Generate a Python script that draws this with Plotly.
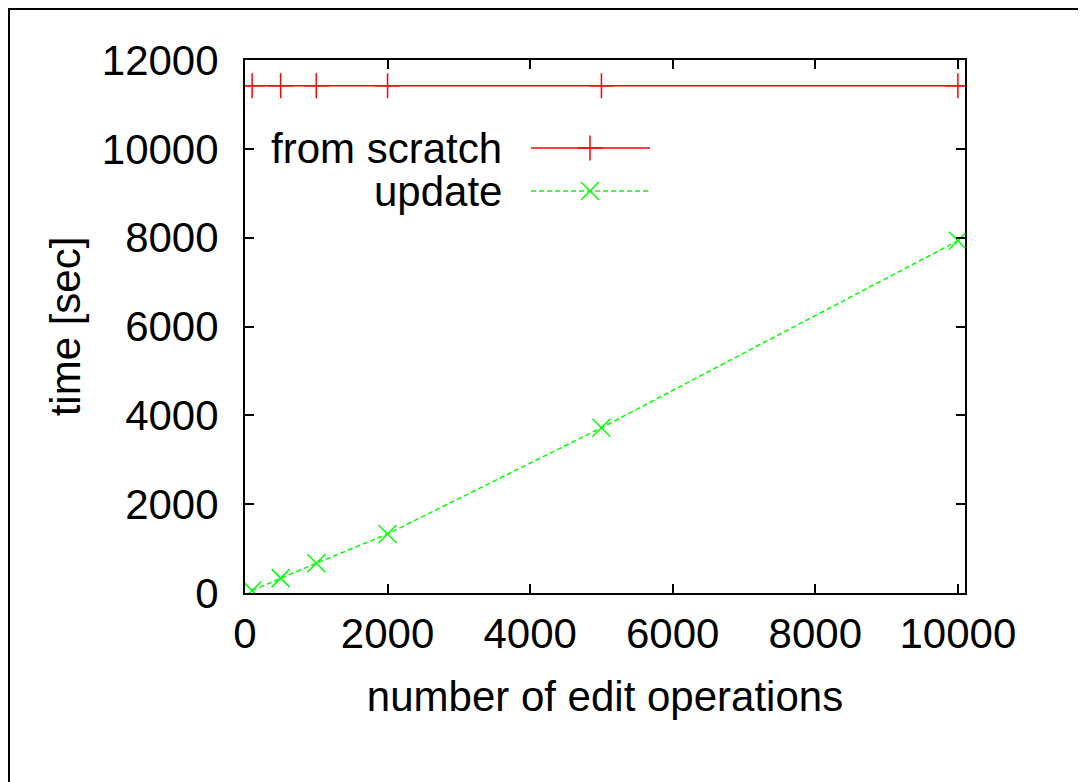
import plotly.graph_objects as go

# ── data ──────────────────────────────────────────────────────────────────────
edit_ops      = [100, 500, 1000, 2000, 5000, 10000]
scratch_time  = [11420, 11420, 11420, 11420, 11420, 11420]
update_time   = [55, 335, 670, 1330, 3720, 7930]

x_ticks = [0, 2000, 4000, 6000, 8000, 10000]
y_ticks = [0, 2000, 4000, 6000, 8000, 10000, 12000]

RED   = "#ff0000"
GREEN = "#00ff00"
FONT  = dict(family="Liberation Sans, Arial, sans-serif", size=42, color="black")

# the page puts the figure 8px in from the top-left corner,
# so pixel positions below are the reference's minus 8
OFF = 8
W, H = 1086, 782
L, T = 245 - OFF, 60 - OFF
PW, PH = 720, 533
R, B = W - L - PW, H - T - PH


def px(x):
    return (x - OFF - L) / PW


def py(y):
    return (T + PH - (y - OFF)) / PH


fig = go.Figure()

fig.add_trace(go.Scatter(
    x=edit_ops, y=scratch_time, mode="markers", name="from scratch",
    marker=dict(symbol="cross-thin", size=18, line=dict(color=RED, width=1.5)),
    showlegend=False,
))
# gnuplot draws the constant line across the whole range
fig.add_shape(type="line", xref="x domain", x0=0, x1=1,
              yref="y", y0=scratch_time[0], y1=scratch_time[-1],
              line=dict(color=RED, width=1.5))

fig.add_trace(go.Scatter(
    x=edit_ops, y=update_time, mode="lines+markers", name="update",
    line=dict(color=GREEN, width=1.5, dash="5px,3px"),
    marker=dict(symbol="x-thin", size=18, line=dict(color=GREEN, width=1.5)),
    showlegend=False,
))

# ── gnuplot-style key: right-justified text, long sample lines ───────────────
key_rows = [("from scratch", RED, "solid", "cross-thin", 18, 148),
            ("update", GREEN, "5px,3px", "x-thin", 18, 191)]
for label, color, dash, sym, size, row_y in key_rows:
    fig.add_annotation(text=label, xref="paper", yref="paper",
                       x=px(504), y=py(row_y), xanchor="right", yanchor="middle",
                       showarrow=False, font=FONT)
    fig.add_trace(go.Scatter(
        x=[px(531), px(650)], y=[py(row_y)] * 2, xaxis="x2", yaxis="y2",
        mode="lines", line=dict(color=color, width=1.5, dash=dash),
        showlegend=False, hoverinfo="skip",
    ))
    fig.add_trace(go.Scatter(
        x=[px(590)], y=[py(row_y)], xaxis="x2", yaxis="y2", mode="markers",
        marker=dict(symbol=sym, size=size, line=dict(color=color, width=1.5)),
        showlegend=False, hoverinfo="skip",
    ))

# outer frame of the original page
fig.add_shape(type="rect", xref="paper", yref="paper",
              x0=px(9), x1=px(1100), y0=py(800), y1=py(9),
              line=dict(color="black", width=2))

axis_common = dict(
    showgrid=False, zeroline=False, showline=True, linecolor="black",
    linewidth=2, mirror="allticks", ticks="inside", ticklen=9,
    tickwidth=1.5, tickcolor="black", tickfont=FONT,
)

fig.update_layout(
    width=W, height=H,
    margin=dict(l=L, r=R, t=T, b=B, autoexpand=False),
    paper_bgcolor="white", plot_bgcolor="white",
    font=FONT, showlegend=False,
    xaxis=dict(range=[0, 10100], tickvals=x_ticks,
               ticktext=[str(v) for v in x_ticks],
               ticklabelstandoff=3,
               title=dict(text="number of edit operations", font=FONT, standoff=25),
               **axis_common),
    yaxis=dict(range=[0, 12000], tickvals=y_ticks,
               ticktext=[str(v) for v in y_ticks],
               ticklabelstandoff=16,
               title=dict(text="time [sec]", font=FONT, standoff=8),
               **axis_common),
    xaxis2=dict(overlaying="x", range=[0, 1], visible=False),
    yaxis2=dict(overlaying="y", range=[0, 1], visible=False),
)

fig.write_html("out.html")
